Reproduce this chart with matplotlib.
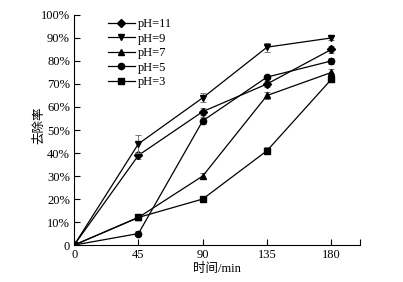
import matplotlib
matplotlib.use("Agg")
import matplotlib.pyplot as plt
from matplotlib.ticker import FuncFormatter

plt.rcParams['font.family'] = ['Liberation Serif', 'Noto Sans CJK SC']
plt.rcParams['axes.unicode_minus'] = False

time = [0, 45, 90, 135, 180]
ph11 = [0, 39, 58, 70, 85]
ph9 = [0, 44, 64, 86, 90]
ph7 = [0, 12, 30, 65, 75]
ph5 = [0, 5, 54, 73, 80]
ph3 = [0, 12, 20, 41, 72]
err11 = [0, 1.5, 1.5, 1.5, 1.5]
err9 = [0, 4, 2, 2, 1]
err7 = [0, 1, 1.5, 1.5, 1.5]
err5 = [0, 1, 1.5, 1, 1.5]
err3 = [0, 1, 1, 1.5, 1]

series = [
    ("pH=11", ph11, err11, "D"),
    ("pH=9", ph9, err9, "v"),
    ("pH=7", ph7, err7, "^"),
    ("pH=5", ph5, err5, "o"),
    ("pH=3", ph3, err3, "s"),
]

fig = plt.figure(figsize=(4.03, 2.82), dpi=100)
ax = fig.add_axes([0.184, 0.131, 0.709, 0.816])

for label, vals, err, mk in series:
    ax.errorbar(time, vals, yerr=err, fmt='none', ecolor='#777777',
                elinewidth=0.7, capsize=2, capthick=0.7)
    ax.plot(time, vals, color='black', lw=0.9, marker=mk,
            markersize=4.5 if mk != "D" else 3.8, label=label)

ax.set_xlim(0, 200)
ax.set_ylim(0, 100)
ax.set_xticks([0, 45, 90, 135, 180, 200])
ax.set_xticklabels(['0', '45', '90', '135', '180', ''])
ax.set_yticks(range(0, 101, 10))
ax.yaxis.set_major_formatter(FuncFormatter(lambda v, p: '0' if v == 0 else '%d%%' % v))
ax.tick_params(direction='in', length=4, width=0.8, labelsize=9, pad=3)
ax.spines['top'].set_visible(False)
ax.spines['right'].set_visible(False)

ax.set_xlabel('时间/min', fontsize=9, labelpad=1)
ax.set_ylabel('去除率', fontsize=9)
ax.yaxis.set_label_coords(-0.10, 0.52)

ax.legend(loc='upper left', bbox_to_anchor=(0.08, 1.035), frameon=False,
          fontsize=9, handlelength=2.1, labelspacing=0.2, handletextpad=0.25)

fig.savefig('out.png', dpi=100)
